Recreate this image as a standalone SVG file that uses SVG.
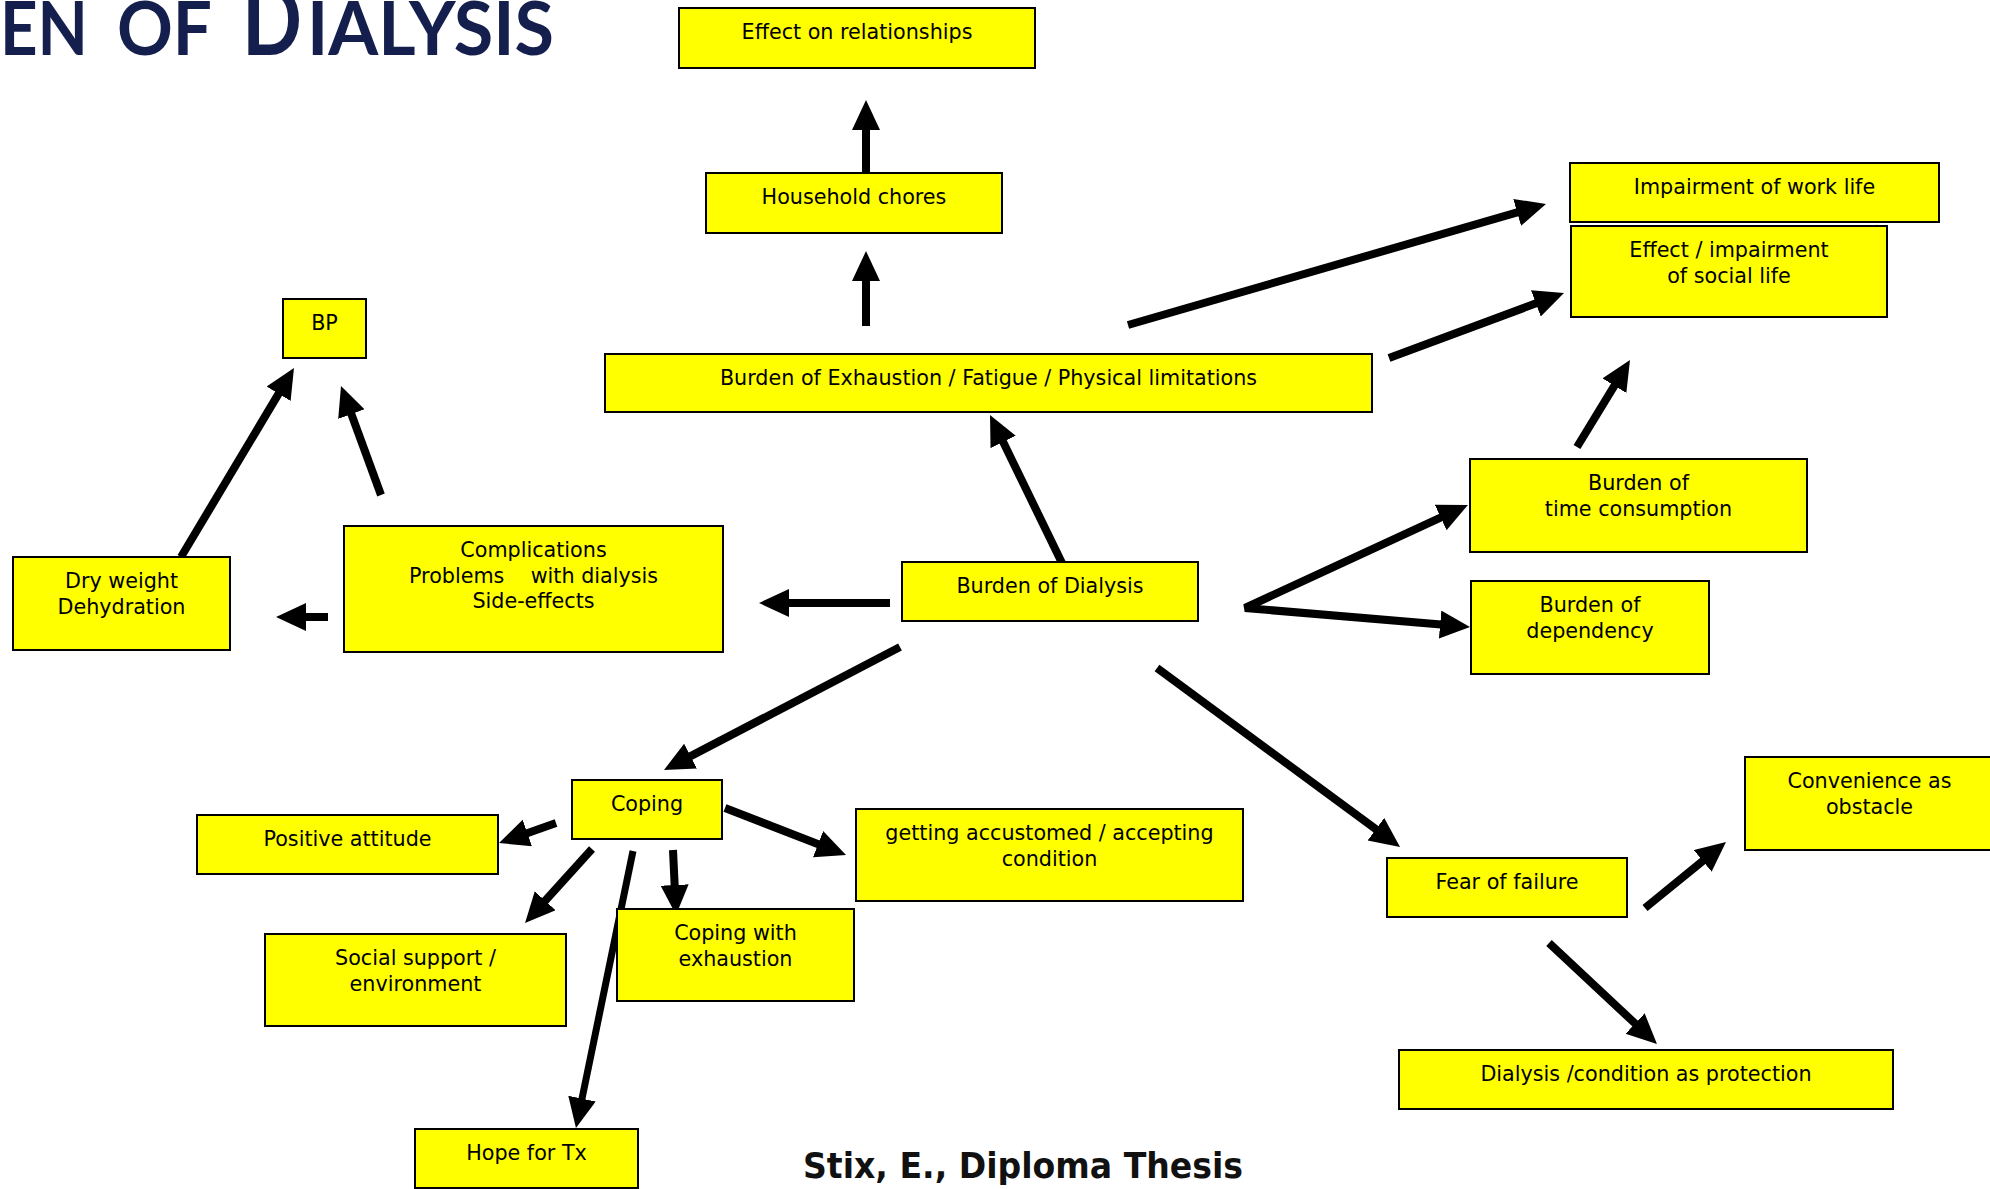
<svg xmlns="http://www.w3.org/2000/svg" width="1990" height="1189" viewBox="0 0 1990 1189">
  <style>
    .box rect { fill: #ffff00; stroke: #000; stroke-width: 2; }
    .box text { font-family: "DejaVu Sans", Verdana, sans-serif; font-size: 20.7px; fill: #000; text-anchor: middle; }
    .arrows line, .arrows path { stroke: #000; stroke-width: 8; fill: none; marker-end: url(#head); }
    .title { font-family: Lato, "Open Sans", sans-serif; font-weight: bold; font-size: 74px; fill: #151f4e; }
    .credit { font-family: "DejaVu Sans", Verdana, sans-serif; font-weight: bold; font-size: 35.5px; fill: #111; }
  </style>
  <defs>
    <marker id="head" markerUnits="userSpaceOnUse" markerWidth="32" markerHeight="30" refX="1" refY="14" orient="auto-start-reverse">
      <path d="M0,0 L30,14 L0,28 z" fill="#000"/>
    </marker>
  </defs>

  <rect width="1990" height="1189" fill="#fff"/>

  <!-- heading in small caps, running off the top-left corner -->
  <g class="title">
    <text x="0" y="55" textLength="88" lengthAdjust="spacingAndGlyphs">EN</text>
    <text x="117" y="55" textLength="95" lengthAdjust="spacingAndGlyphs">OF</text>
    <text x="242" y="55" font-size="98" textLength="60" lengthAdjust="spacingAndGlyphs">D</text>
    <text x="307" y="55" textLength="247" lengthAdjust="spacingAndGlyphs">IALYSIS</text>
  </g>

  <!-- connectors -->
  <g class="arrows">
    <line x1="866" y1="173" x2="866" y2="129"/>
    <line x1="866" y1="326" x2="866" y2="280"/>
    <line x1="1062" y1="563" x2="1002.7" y2="441.1"/>
    <line x1="1128" y1="325" x2="1518.1" y2="212.1"/>
    <line x1="1389" y1="358" x2="1536.8" y2="303.1"/>
    <line x1="1577" y1="447" x2="1614.9" y2="384.8"/>
    <path d="M1441.6,517.1 L1245,608 L1441.1,624.6" style="marker-start:url(#head)" stroke-linejoin="bevel"/>
    <line x1="890" y1="603" x2="788" y2="603"/>
    <line x1="328" y1="617" x2="305" y2="617"/>
    <line x1="181" y1="557" x2="279.1" y2="392.9"/>
    <line x1="381" y1="495" x2="351" y2="413.2"/>
    <line x1="900" y1="647" x2="689.7" y2="756.6"/>
    <line x1="556" y1="823" x2="526.4" y2="833.4"/>
    <line x1="725" y1="808" x2="819" y2="844.5"/>
    <line x1="592" y1="849" x2="544.5" y2="901.5"/>
    <line x1="673" y1="850" x2="674.7" y2="886"/>
    <line x1="633" y1="851" x2="581.8" y2="1099.6" style="stroke-width:7"/>
    <line x1="1157" y1="668" x2="1376.7" y2="829.8"/>
    <line x1="1645" y1="908" x2="1703.5" y2="860.3"/>
    <line x1="1549" y1="943" x2="1635.8" y2="1024.2"/>
  </g>

  <!-- nodes -->
  <g id="relationships" class="box"><rect x="679" y="8" width="356" height="60"/><text x="857" y="39">Effect on relationships</text></g>
  <g id="household" class="box"><rect x="706" y="173" width="296" height="60"/><text x="854" y="204">Household chores</text></g>
  <g id="work-life" class="box"><rect x="1570" y="163" width="369" height="59"/><text x="1754.5" y="194">Impairment of work life</text></g>
  <g id="social-life" class="box"><rect x="1571" y="226" width="316" height="91"/><text x="1729" y="257">Effect / impairment<tspan x="1729" dy="25.5">of social life</tspan></text></g>
  <g id="exhaustion" class="box"><rect x="605" y="354" width="767" height="58"/><text x="988.5" y="385">Burden of Exhaustion / Fatigue / Physical limitations</text></g>
  <g id="bp" class="box"><rect x="283" y="299" width="83" height="59"/><text x="324.5" y="330">BP</text></g>
  <g id="time" class="box"><rect x="1470" y="459" width="337" height="93"/><text x="1638.5" y="490">Burden of<tspan x="1638.5" dy="26">time consumption</tspan></text></g>
  <g id="dependency" class="box"><rect x="1471" y="581" width="238" height="93"/><text x="1590" y="612">Burden of<tspan x="1590" dy="26">dependency</tspan></text></g>
  <g id="dialysis" class="box"><rect x="902" y="562" width="296" height="59"/><text x="1050" y="593">Burden of Dialysis</text></g>
  <g id="complications" class="box"><rect x="344" y="526" width="379" height="126"/><text x="533.5" y="557">Complications<tspan x="533.5" dy="25.5" style="white-space:pre">Problems    with dialysis</tspan><tspan x="533.5" dy="25.5">Side-effects</tspan></text></g>
  <g id="dry-weight" class="box"><rect x="13" y="557" width="217" height="93"/><text x="121.5" y="588">Dry weight<tspan x="121.5" dy="26">Dehydration</tspan></text></g>
  <g id="coping" class="box"><rect x="572" y="780" width="150" height="59"/><text x="647" y="811">Coping</text></g>
  <g id="positive" class="box"><rect x="197" y="815" width="301" height="59"/><text x="347.5" y="846">Positive attitude</text></g>
  <g id="accustomed" class="box"><rect x="856" y="809" width="387" height="92"/><text x="1049.5" y="840">getting accustomed / accepting<tspan x="1049.5" dy="25.5">condition</tspan></text></g>
  <g id="social-support" class="box"><rect x="265" y="934" width="301" height="92"/><text x="415.5" y="965">Social support /<tspan x="415.5" dy="25.5">environment</tspan></text></g>
  <g id="coping-exhaustion" class="box"><rect x="617" y="909" width="237" height="92"/><text x="735.5" y="940">Coping with<tspan x="735.5" dy="25.5">exhaustion</tspan></text></g>
  <g id="hope" class="box"><rect x="415" y="1129" width="223" height="59"/><text x="526.5" y="1160">Hope for Tx</text></g>
  <g id="fear" class="box"><rect x="1387" y="858" width="240" height="59"/><text x="1507" y="889">Fear of failure</text></g>
  <g id="convenience" class="box"><rect x="1745" y="757" width="249" height="93"/><text x="1869.5" y="788">Convenience as<tspan x="1869.5" dy="25.5">obstacle</tspan></text></g>
  <g id="protection" class="box"><rect x="1399" y="1050" width="494" height="59"/><text x="1646" y="1081">Dialysis /condition as protection</text></g>

  <text class="credit" x="803" y="1178" textLength="440" lengthAdjust="spacingAndGlyphs">Stix, E., Diploma Thesis</text>
</svg>
